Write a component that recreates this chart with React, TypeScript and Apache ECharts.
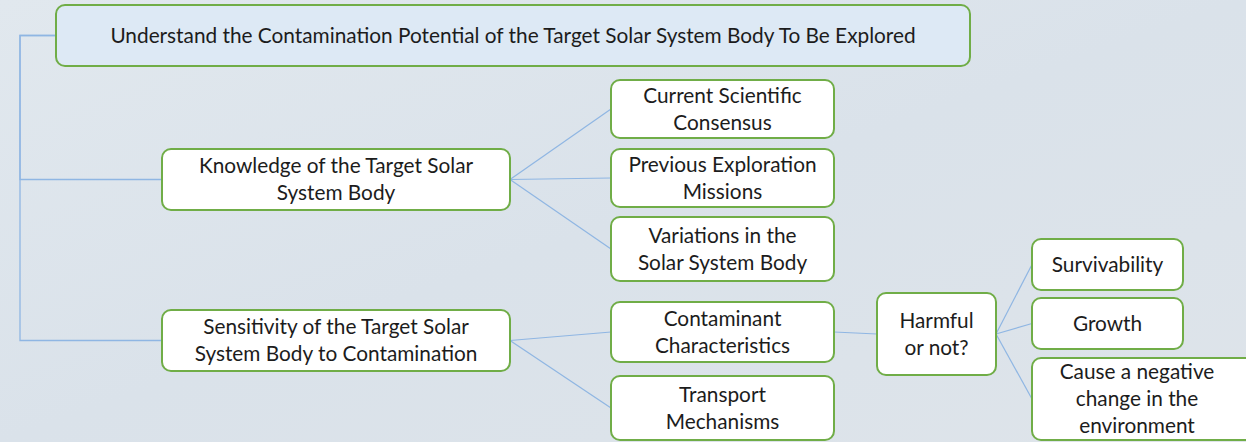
import React, { useEffect, useRef } from "react";
import * as echarts from "echarts";

// ---- data ----
const nodeLabels: string[] = [
  "Understand the Contamination Potential of the Target Solar System Body To Be Explored",
  "Knowledge of the Target Solar\nSystem Body",
  "Sensitivity of the Target Solar\nSystem Body to Contamination",
  "Current Scientific\nConsensus",
  "Previous Exploration\nMissions",
  "Variations in the\nSolar System Body",
  "Contaminant\nCharacteristics",
  "Transport\nMechanisms",
  "Harmful\nor not?",
  "Survivability",
  "Growth",
  "Cause a negative\nchange in the\nenvironment",
];
const edgeParents: number[] = [0, 0, 1, 1, 1, 2, 2, 6, 8, 8, 8];
const edgeChildren: number[] = [1, 2, 3, 4, 5, 6, 7, 8, 9, 10, 11];

// ---- layout (positions & sizes, kept apart from the data) ----
const boxes: [number, number, number, number][] = [
  [56, 5, 914, 61],
  [162, 149, 348, 61],
  [162, 310, 348, 61],
  [611, 80, 223, 58],
  [611, 149, 223, 58],
  [611, 217, 223, 64],
  [611, 302, 223, 60],
  [611, 376, 223, 64],
  [877, 293, 119, 82],
  [1032, 239, 151, 51],
  [1032, 298, 151, 51],
  [1032, 358, 230, 82],
];
const TRUNK_X = 20;
const LINE_COLOR = "#8fb6e3";
const BORDER = "#70ad47";
const FONT = '20.8px Lato, "Noto Sans", sans-serif';

export default function App() {
  const ref = useRef<HTMLDivElement>(null);
  useEffect(() => {
    document.body.style.margin = "0";
    const chart = echarts.init(ref.current!, null, { renderer: "svg" });
    const els: any[] = [];
    els.push({
      type: "rect",
      shape: { x: 0, y: 0, width: 1246, height: 442 },
      style: {
        fill: new echarts.graphic.LinearGradient(0, 0, 1, 1, [
          { offset: 0, color: "#e1e8ee" },
          { offset: 0.5, color: "#dae2ea" },
          { offset: 1, color: "#dee4ea" },
        ]),
      },
      silent: true,
      z: 0,
    });

    edgeParents.forEach((p, i) => {
      const c = edgeChildren[i];
      const [px, py, pw, ph] = boxes[p];
      const [cx, cy, , ch] = boxes[c];
      if (p === 0) {
        els.push({
          type: "polyline",
          shape: { points: [[px, py + ph / 2], [TRUNK_X, py + ph / 2], [TRUNK_X, cy + ch / 2], [cx, cy + ch / 2]] },
          style: { stroke: LINE_COLOR, lineWidth: 1.3, fill: "none" },
          z: 2,
        });
      } else {
        els.push({
          type: "line",
          shape: { x1: px + pw, y1: py + ph / 2, x2: cx, y2: cy + ch / 2 },
          style: { stroke: LINE_COLOR, lineWidth: 1.2 },
          z: 2,
        });
      }
    });

    nodeLabels.forEach((label, i) => {
      const [x, y, w, h] = boxes[i];
      els.push({
        type: "rect",
        shape: { x, y, width: w, height: h, r: 9 },
        style: { fill: i === 0 ? "#dde9f5" : "#ffffff", stroke: BORDER, lineWidth: 2 },
        z: 3,
      });
      const textCx = i === 11 ? x + 105 : x + w / 2;
      els.push({
        type: "text",
        x: textCx,
        y: y + h / 2 - 1.5,
        style: {
          text: label,
          font: FONT,
          fill: "#1c1c1c",
          align: "center",
          verticalAlign: "middle",
          lineHeight: 27,
        },
        z: 4,
      });
    });

    chart.setOption({ animation: false, graphic: { elements: els } });
    return () => chart.dispose();
  }, []);
  return <div ref={ref} style={{ width: 1246, height: 442 }} />;
}
